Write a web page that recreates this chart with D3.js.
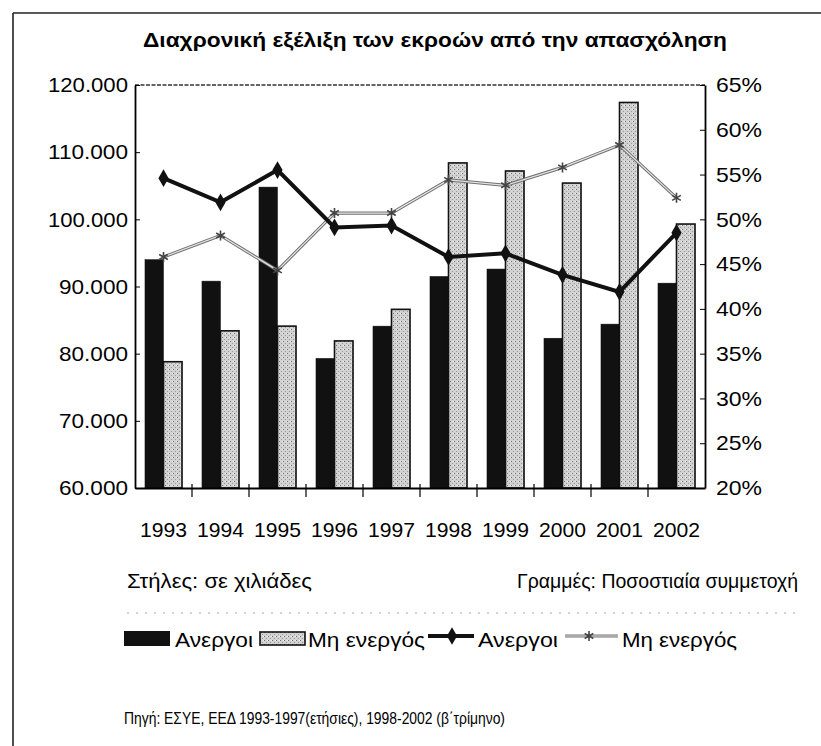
<!DOCTYPE html>
<html>
<head>
<meta charset="utf-8">
<script src="https://cdn.jsdelivr.net/npm/d3@7"></script>
<style>
body { margin: 0; background: #fff; }
svg { display: block; font-family: 'Liberation Sans Narrow', 'Arial Narrow', 'Liberation Sans', Arial, sans-serif; }
.axis text { fill: #000; }
.axis path, .axis line { stroke: #000; }
</style>
</head>
<body>
<svg id="chart"></svg>
<script>
// data
var years = ['1993', '1994', '1995', '1996', '1997', '1998', '1999', '2000', '2001', '2002'];
var seriesNames = ['Ανεργοι', 'Μη ενεργός'];
// columns, in persons (left axis)
var anergoiBars = [94000, 90800, 104800, 79300, 84100, 91500, 92600, 82300, 84400, 90500];
var mhEnergoiBars = [78800, 83400, 84100, 81900, 86600, 108400, 107200, 105400, 117400, 99300];
// lines, percent share (right axis)
var anergoiPct = [54.6, 51.9, 55.5, 49.1, 49.3, 45.8, 46.2, 43.8, 41.9, 48.5];
var mhEnergoiPct = [45.8, 48.2, 44.3, 50.7, 50.7, 54.4, 53.8, 55.8, 58.3, 52.4];
var leftTicks = [60000, 70000, 80000, 90000, 100000, 110000, 120000];
var rightTicks = [20, 25, 30, 35, 40, 45, 50, 55, 60, 65];

var titleText = 'Διαχρονική εξέλιξη των εκροών από την απασχόληση';
var colNote = 'Στήλες: σε χιλιάδες';
var lineNote = 'Γραμμές: Ποσοστιαία συμμετοχή';
var sourceText = 'Πηγή: ΕΣΥΕ, ΕΕΔ 1993-1997(ετήσιες), 1998-2002 (β΄τρίμηνο)';

function chart() {
    var W = 821, H = 746;
    var margin = { top: 85, left: 135 },
        width = 570,
        height = 403;

    var root = d3.select('#chart')
        .attr('width', W)
        .attr('height', H);

    // dotted fill for the light columns
    var pat = root.append('defs').append('pattern')
        .attr('id', 'dots')
        .attr('width', 4).attr('height', 4)
        .attr('patternUnits', 'userSpaceOnUse');
    pat.append('rect').attr('width', 4).attr('height', 4).attr('fill', '#d2d2d2');
    pat.append('rect').attr('x', 0).attr('y', 0).attr('width', 1).attr('height', 1).attr('fill', '#6e6e6e');
    pat.append('rect').attr('x', 2).attr('y', 2).attr('width', 1).attr('height', 1).attr('fill', '#9a9a9a');
    pat.append('rect').attr('x', 3).attr('y', 0).attr('width', 1).attr('height', 1).attr('fill', '#f2f2f2');

    // frame of the scanned figure (top and left only)
    root.append('line').attr('x1', 13).attr('x2', W).attr('y1', 13).attr('y2', 13)
        .attr('stroke', '#222').attr('stroke-width', 1.6);
    root.append('line').attr('x1', 13).attr('x2', 13).attr('y1', 13).attr('y2', H)
        .attr('stroke', '#222').attr('stroke-width', 1.6);

    var fmt = d3.formatLocale({ decimal: ',', thousands: '.', grouping: [3], currency: ['', '€'] }).format(',d');

    function fit(sel, w) {
        sel.attr('textLength', w).attr('lengthAdjust', 'spacingAndGlyphs');
    }

    // title
    root.append('text')
        .attr('x', 143).attr('y', 47)
        .style('font-size', '21px').style('font-weight', 'bold')
        .text(titleText)
        .call(fit, 584);

    var svg = root.append('g')
        .attr('transform', 'translate(' + margin.left + ',' + margin.top + ')');

    var x0 = d3.scaleBand()
        .domain(years)
        .range([0, width])
        .paddingInner(0.35)
        .paddingOuter(0.175);
    var x1 = d3.scaleBand()
        .domain(seriesNames)
        .range([0, x0.bandwidth()]);
    var yL = d3.scaleLinear().domain([60000, 120000]).range([height, 0]);
    var yR = d3.scaleLinear().domain([20, 65]).range([height, 0]);
    var cx = function (yr) { return x0(yr) + x0.bandwidth() / 2; };

    // dashed top edge of plot
    svg.append('line')
        .attr('x1', 0).attr('x2', width).attr('y1', 0).attr('y2', 0)
        .attr('stroke', '#333').attr('stroke-width', 1.4)
        .attr('stroke-dasharray', '4,1.5');

    // columns
    var rows = years.map((y, i) => ({ year: y, vals: [anergoiBars[i], mhEnergoiBars[i]] }));
    var groups = svg.selectAll('.grp')
        .data(rows)
        .enter().append('g')
        .attr('class', 'grp')
        .attr('transform', d => 'translate(' + x0(d.year) + ',0)');

    groups.selectAll('rect')
        .data(d => d.vals.map((v, k) => ({ name: seriesNames[k], value: v })))
        .enter().append('rect')
        .attr('x', d => x1(d.name))
        .attr('y', d => yL(d.value))
        .attr('width', x1.bandwidth())
        .attr('height', d => height - yL(d.value))
        .attr('fill', d => d.name === seriesNames[0] ? '#111' : 'url(#dots)')
        .attr('stroke', '#111')
        .attr('stroke-width', d => d.name === seriesNames[0] ? 0.5 : 1.6);

    // lines
    var line = d3.line()
        .x((d, i) => cx(years[i]))
        .y(d => yR(d));

    svg.append('path')
        .datum(mhEnergoiPct)
        .attr('fill', 'none')
        .attr('stroke', '#707070')
        .attr('stroke-width', 3.2)
        .attr('d', line);
    svg.append('path')
        .datum(mhEnergoiPct)
        .attr('fill', 'none')
        .attr('stroke', '#e4e4e4')
        .attr('stroke-width', 1.2)
        .attr('d', line);
    svg.selectAll('.mk2')
        .data(mhEnergoiPct)
        .enter().append('path')
        .attr('class', 'mk2')
        .attr('transform', (d, i) => 'translate(' + cx(years[i]) + ',' + yR(d) + ')')
        .attr('d', d3.symbol(d3.symbolAsterisk, 70))
        .attr('fill', 'none')
        .attr('stroke', '#444')
        .attr('stroke-width', 1.6);

    svg.append('path')
        .datum(anergoiPct)
        .attr('fill', 'none')
        .attr('stroke', '#111')
        .attr('stroke-width', 4)
        .attr('d', line);
    svg.selectAll('.mk1')
        .data(anergoiPct)
        .enter().append('path')
        .attr('class', 'mk1')
        .attr('transform', (d, i) => 'translate(' + cx(years[i]) + ',' + yR(d) + ')')
        .attr('d', d3.symbol(d3.symbolDiamond, 90))
        .attr('fill', '#111');

    // axes
    var gl = svg.append('g')
        .attr('class', 'axis')
        .call(d3.axisLeft(yL).tickValues(leftTicks).tickFormat(fmt)
            .tickSizeInner(-5).tickSizeOuter(0).tickPadding(7));
    gl.select('.domain').attr('stroke-width', 1.8);
    gl.selectAll('text').style('font-size', '21px')
        .each(function () {
            var t = d3.select(this);
            t.call(fit, t.text().length > 6 ? 80 : 69);
        });

    var gr = svg.append('g')
        .attr('class', 'axis')
        .attr('transform', 'translate(' + width + ',0)')
        .call(d3.axisRight(yR).tickValues(rightTicks).tickFormat(d => d + '%')
            .tickSizeInner(-5).tickSizeOuter(0).tickPadding(11));
    gr.select('.domain').attr('stroke-width', 1.8);
    gr.selectAll('text').style('font-size', '21px').call(fit, 46);

    var gb = svg.append('g')
        .attr('class', 'axis')
        .attr('transform', 'translate(0,' + height + ')')
        .call(d3.axisBottom(x0).tickSize(0).tickSizeOuter(0).tickPadding(34));
    gb.select('.domain').attr('stroke-width', 1.8);
    gb.selectAll('text').style('font-size', '21px').call(fit, 47);

    // category separators on the x axis
    gb.selectAll('.sep')
        .data(years.slice(1))
        .enter().append('line')
        .attr('class', 'sep')
        .attr('x1', d => x0(d) - x0.step() * x0.paddingInner() / 2)
        .attr('x2', d => x0(d) - x0.step() * x0.paddingInner() / 2)
        .attr('y1', -4).attr('y2', 9)
        .attr('stroke', '#000').attr('stroke-width', 1.2);

    // notes under the axis
    root.append('text')
        .attr('x', 127).attr('y', 588)
        .style('font-size', '21px')
        .text(colNote)
        .call(fit, 185);
    root.append('text')
        .attr('x', 517).attr('y', 588)
        .style('font-size', '21px')
        .text(lineNote)
        .call(fit, 281);

    root.append('line')
        .attr('x1', 127).attr('x2', 795).attr('y1', 613).attr('y2', 613)
        .attr('stroke', '#aaa').attr('stroke-width', 1)
        .attr('stroke-dasharray', '2,7');

    // legend
    var lg = root.append('g');
    lg.append('rect')
        .attr('x', 124).attr('y', 631).attr('width', 46).attr('height', 15)
        .attr('fill', '#111');
    lg.append('text').attr('x', 175).attr('y', 647)
        .style('font-size', '21px').text(seriesNames[0]).call(fit, 78);

    lg.append('rect')
        .attr('x', 260).attr('y', 632).attr('width', 45).attr('height', 13)
        .attr('fill', 'url(#dots)').attr('stroke', '#111').attr('stroke-width', 1.6);
    lg.append('text').attr('x', 308).attr('y', 647)
        .style('font-size', '21px').text(seriesNames[1]).call(fit, 117);

    lg.append('line')
        .attr('x1', 428).attr('x2', 474).attr('y1', 636).attr('y2', 636)
        .attr('stroke', '#111').attr('stroke-width', 4);
    lg.append('path')
        .attr('transform', 'translate(452,636)')
        .attr('d', d3.symbol(d3.symbolDiamond, 90))
        .attr('fill', '#111');
    lg.append('text').attr('x', 478).attr('y', 647)
        .style('font-size', '21px').text(seriesNames[0]).call(fit, 80);

    lg.append('line')
        .attr('x1', 565).attr('x2', 618).attr('y1', 636).attr('y2', 636)
        .attr('stroke', '#707070').attr('stroke-width', 3.2);
    lg.append('line')
        .attr('x1', 565).attr('x2', 618).attr('y1', 636).attr('y2', 636)
        .attr('stroke', '#e4e4e4').attr('stroke-width', 1.2);
    lg.append('path')
        .attr('transform', 'translate(589,636)')
        .attr('d', d3.symbol(d3.symbolAsterisk, 70))
        .attr('fill', 'none').attr('stroke', '#444').attr('stroke-width', 1.6);
    lg.append('text').attr('x', 622).attr('y', 647)
        .style('font-size', '21px').text(seriesNames[1]).call(fit, 115);

    // source
    root.append('text')
        .attr('x', 124).attr('y', 724)
        .style('font-size', '16px')
        .text(sourceText)
        .call(fit, 381);
}
chart();
</script>
</body>
</html>
